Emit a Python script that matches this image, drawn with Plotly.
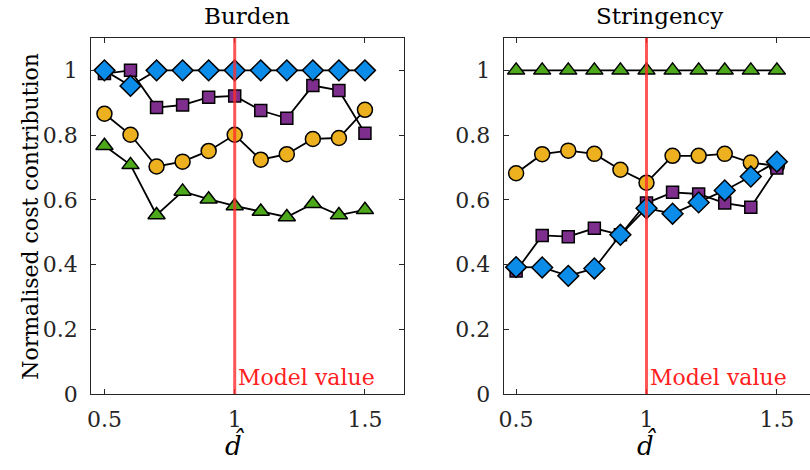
import plotly.graph_objects as go

d_hat = [0.5, 0.6, 0.7, 0.8, 0.9, 1.0, 1.1, 1.2, 1.3, 1.4, 1.5]

# Burden panel
burden_green = [0.767, 0.708, 0.553, 0.626, 0.602, 0.581, 0.564, 0.547, 0.588, 0.553, 0.569]
burden_orange = [0.866, 0.801, 0.703, 0.718, 0.751, 0.801, 0.724, 0.741, 0.788, 0.791, 0.878]
burden_purple = [0.990, 1.000, 0.885, 0.893, 0.917, 0.921, 0.876, 0.852, 0.953, 0.938, 0.806]
burden_blue = [1.000, 0.952, 1.000, 1.000, 1.000, 1.000, 1.000, 1.000, 1.000, 1.000, 1.000]

# Stringency panel
string_green = [1.0] * 11
string_orange = [0.682, 0.741, 0.752, 0.742, 0.693, 0.653, 0.736, 0.736, 0.742, 0.715, 0.705]
string_purple = [0.380, 0.490, 0.486, 0.512, 0.492, 0.590, 0.623, 0.618, 0.590, 0.577, 0.698]
string_blue = [0.392, 0.391, 0.365, 0.388, 0.492, 0.574, 0.557, 0.592, 0.629, 0.672, 0.718]

panel_titles = ["Burden", "Stringency"]
y_ticks = [0, 0.2, 0.4, 0.6, 0.8, 1.0]
x_ticks = [0.5, 1.0, 1.5]
model_value = 1.0

GREEN = "#4DA81C"
ORANGE = "#EDB120"
PURPLE = "#7E2F8E"
BLUE = "#0C8CE9"
FONT = "DejaVu Serif"
AX = "#262626"

W, H = 810, 470
TOP, BOT = 38.3, 394.0
L1, R1 = 86.7, 401.0
L2, R2 = 501.7, 810.0

fig = go.Figure()

series_spec = [
    ("green", GREEN, "triangle-up", 15),
    ("orange", ORANGE, "circle", 15),
    ("purple", PURPLE, "square", 12),
    ("blue", BLUE, "diamond", 16),
]
panels = [
    {"green": burden_green, "orange": burden_orange, "purple": burden_purple, "blue": burden_blue},
    {"green": string_green, "orange": string_orange, "purple": string_purple, "blue": string_blue},
]

for i, pdata in enumerate(panels):
    xa = "x" if i == 0 else "x2"
    ya = "y" if i == 0 else "y2"
    for key, col, sym, sz in series_spec:
        fig.add_trace(go.Scatter(
            x=d_hat, y=pdata[key], mode="lines+markers",
            line=dict(color="black", width=1.8),
            marker=dict(symbol=sym, size=sz, color=col, line=dict(color="black", width=1.5)),
            xaxis=xa, yaxis=ya, showlegend=False, cliponaxis=False,
        ))

def axis_common():
    return dict(
        showline=True, linecolor=AX, linewidth=1, ticks="inside", ticklen=5,
        tickcolor=AX, tickwidth=1, showgrid=False, zeroline=False,
        tickfont=dict(family=FONT, size=22, color=AX),
    )

fig.update_layout(
    width=W, height=H,
    margin=dict(l=0, r=0, t=TOP, b=H - BOT),
    paper_bgcolor="white", plot_bgcolor="white",
    font=dict(family=FONT),
    xaxis=dict(domain=[L1 / W, R1 / W], range=[0.449, 1.648], tickvals=x_ticks,
               ticktext=["0.5", "1", "1.5"], mirror="ticks", anchor="y",
               ticklabelstandoff=6, **axis_common()),
    yaxis=dict(domain=[0, 1], range=[0, 1.1], tickvals=y_ticks, mirror="ticks",
               anchor="x", ticklabelstandoff=8, **axis_common()),
    xaxis2=dict(domain=[L2 / W, R2 / W], range=[0.452, 1.627], tickvals=x_ticks,
                ticktext=["0.5", "1", "1.5"], mirror="ticks", anchor="y2",
                ticklabelstandoff=6, **axis_common()),
    yaxis2=dict(domain=[0, 1], range=[0, 1.1], tickvals=y_ticks, mirror=False,
                anchor="x2", ticklabelstandoff=8, **axis_common()),
)

# model value line & label
for xr, yr in [("x", "y"), ("x2", "y2")]:
    fig.add_shape(type="line", xref=xr, yref=yr, x0=model_value, x1=model_value,
                  y0=0, y1=1.1, line=dict(color="rgba(255,45,45,0.8)", width=3), layer="above")
    fig.add_annotation(xref=xr, yref=yr, x=model_value, y=0.052, text="Model value",
                       showarrow=False, xanchor="left", xshift=1,
                       font=dict(family=FONT, size=22, color="#FF2020"))

# titles
title_centers = [(L1 + R1) / 2, (L2 + 815.5) / 2]
for c, t in zip(title_centers, panel_titles):
    fig.add_annotation(xref="paper", yref="paper", x=c / W, y=1, yshift=22,
                       text=t, showarrow=False, xanchor="center", yanchor="middle",
                       font=dict(family=FONT, size=23, color="black"))

# x-axis labels
for xr in ["x", "x2"]:
    fig.add_annotation(xref=xr, yref="paper", x=model_value, y=0, yshift=-50,
                       text="<i>d\u0302</i>", showarrow=False, xanchor="center",
                       yanchor="middle", font=dict(family=FONT, size=26, color="black"))

fig.add_annotation(xref="paper", yref="paper", x=25 / W, y=0.5, textangle=-90,
                   text="Normalised cost contribution", showarrow=False,
                   xanchor="center", yanchor="middle",
                   font=dict(family=FONT, size=22, color="black"))

fig.write_html("out.html")
